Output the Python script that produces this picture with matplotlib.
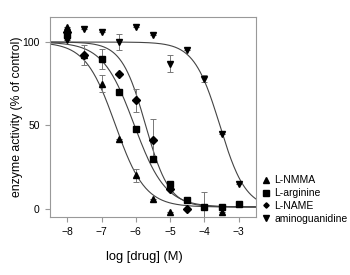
import numpy as np
import matplotlib
matplotlib.use("Agg")
import matplotlib.pyplot as plt

plt.rcParams['font.family'] = ['Liberation Sans', 'DejaVu Sans']

# measured points (log M, % of control)
nmma_x = [-8, -7.5, -7, -6.5, -6, -5.5, -5, -3.5]
nmma_y = [109, 92, 75, 42, 20, 6, -2, -2]
nmma_err = [0, 0, 5, 0, 4, 0, 0, 0]

arg_x = [-8, -7, -6.5, -6, -5.5, -5, -4.5, -4, -3.5, -3]
arg_y = [104, 90, 70, 48, 30, 15, 5, 1, 1, 3]
arg_err = [0, 6, 0, 0, 0, 0, 0, 9, 0, 0]

name_x = [-8, -7.5, -6.5, -6, -5.5, -5, -4.5]
name_y = [106, 92, 81, 65, 41, 12, 0]
name_err = [0, 6, 0, 7, 13, 0, 0]

amg_x = [-8, -7.5, -7, -6.5, -6, -5.5, -5, -4.5, -4, -3.5, -3]
amg_y = [101, 108, 106, 100, 109, 104, 87, 95, 78, 45, 15]
amg_err = [0, 0, 0, 5, 0, 0, 5, 0, 2, 0, 0]

# fitted curves: top, bottom, logIC50, hill
fits = {
    'L-NMMA': (100, 1, -6.6, 1.0),
    'L-arginine': (100, 1, -6.05, 0.95),
    'L-NAME': (100, 1, -5.72, 1.25),
    'aminoguanidine': (100, 0, -3.55, 1.15),
}

series = [
    ('L-NMMA', nmma_x, nmma_y, nmma_err, '^'),
    ('L-arginine', arg_x, arg_y, arg_err, 's'),
    ('L-NAME', name_x, name_y, name_err, 'D'),
    ('aminoguanidine', amg_x, amg_y, amg_err, 'v'),
]
msizes = {'^': 5, 's': 5, 'D': 3.6, 'v': 5}

fig = plt.figure(figsize=(3.5, 2.75), dpi=100)
ax = fig.add_axes([0.143, 0.211, 0.588, 0.727])

xs = np.linspace(-8.5, -2.5, 300)
for name, x, y, err, m in series:
    top, bot, ic50, h = fits[name]
    ax.plot(xs, bot + (top - bot) / (1 + 10 ** ((xs - ic50) * h)),
            color='#444444', lw=0.8, zorder=1)
    ax.errorbar(x, y, yerr=err, fmt='none', ecolor='#777777',
                elinewidth=0.7, capsize=2, capthick=0.7, zorder=2)
    ax.plot(x, y, m, color='black', ms=msizes[m], ls='none',
            label=name, zorder=3)

ax.set_xlim(-8.5, -2.5)
ax.set_ylim(-5, 115)
ax.set_xticks([-8, -7, -6, -5, -4, -3])
ax.set_yticks([0, 50, 100])
for s in ax.spines.values():
    s.set_color('#999999')
    s.set_linewidth(0.8)
ax.tick_params(colors='#999999', labelcolor='black', labelsize=7.5,
               length=3.5, width=0.8, pad=4)
ax.set_xlabel('log [drug] (M)', fontsize=9.3)
ax.xaxis.set_label_coords(0.46, -0.17)
ax.set_ylabel('enzyme activity (% of control)', fontsize=8.8)
ax.yaxis.set_label_coords(-0.13, 0.5)

ax.legend(loc='upper left', bbox_to_anchor=(1.0, 0.24), frameon=False,
          fontsize=7.5, handlelength=0.8, handletextpad=0.4,
          labelspacing=0.28, borderaxespad=0.2, markerscale=0.75)

fig.savefig('out.png', dpi=100)
